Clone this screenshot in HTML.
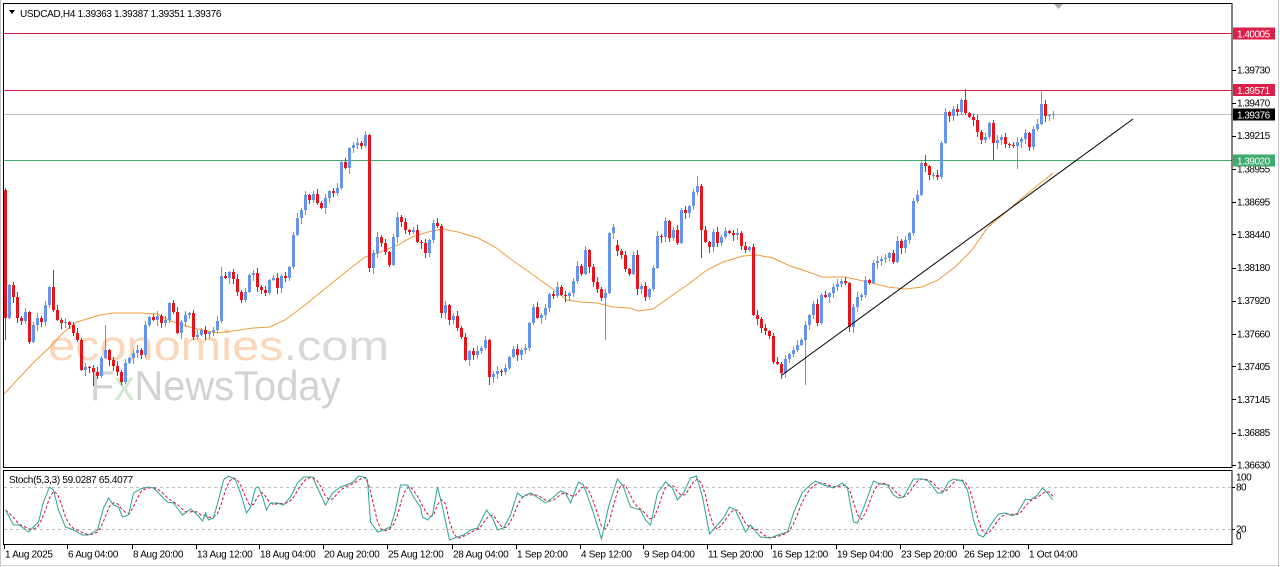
<!DOCTYPE html>
<html>
<head>
<meta charset="utf-8">
<style>
html,body{margin:0;padding:0;background:#fff;overflow:hidden;}
svg{display:block;}
text{font-family:"Liberation Sans",Arial,sans-serif;}
</style>
</head>
<body>
<svg id="chart" xmlns="http://www.w3.org/2000/svg" width="1280" height="567" viewBox="0 0 1280 567">
  <rect x="0" y="0" width="1280" height="567" fill="#ffffff"/>
  <line x1="0.5" y1="0" x2="0.5" y2="567" stroke="#c4c4c4"/>
  <line x1="1278.5" y1="0" x2="1278.5" y2="567" stroke="#c4c4c4"/>
  <line x1="0" y1="565.5" x2="1280" y2="565.5" stroke="#d0d0d0"/>

  <!-- watermark -->
  <g>
    <text x="48" y="360" font-size="42" fill="#fdd5b8" transform="translate(48,0) scale(1.16,1) translate(-48,0)">economies<tspan fill="#d8d8d8">.com</tspan></text>
    <text x="90" y="400" font-size="42" fill="#d2d2d2" transform="translate(90,0) scale(0.95,1) translate(-90,0)">F<tspan fill="#d0e8d0">x</tspan>NewsToday</text>
  </g>

  <!-- horizontal level lines -->
  <line x1="4" y1="33.5" x2="1232" y2="33.5" stroke="#d21a44" stroke-width="1"/>
  <line x1="4" y1="90.5" x2="1232" y2="90.5" stroke="#d21a44" stroke-width="1"/>
  <line x1="4" y1="114.5" x2="1232" y2="114.5" stroke="#c0c0c0" stroke-width="1"/>
  <line x1="4" y1="160.5" x2="1232" y2="160.5" stroke="#3daa6e" stroke-width="1"/>

  <!-- moving average -->
  <polyline fill="none" stroke="#ec9d3c" stroke-width="1" points="4,394 20,377 35,361 50,347 63,333 77,322 100,315 113,313 140,313 157,314 173,322 193,328 217,333 233,331 253,328 270,327 285,320 305,305 332,283 352,267 365,257 378,253 398,245 412,237 428,232 442,229 458,232 478,238 495,247 512,260 532,274 550,287 567,300 580,302 597,303 613,307 630,308 638,311 653,309 670,297 690,283 707,270 723,262 743,256 757,255 773,258 790,266 800,269 822,277 845,277 868,282 888,287 905,289 922,287 938,280 955,267 972,250 988,227 1005,213 1022,198 1038,185 1053,173"/>

  <g id="candles"></g>

  <!-- trend line -->
  <line x1="782" y1="375" x2="1133" y2="119" stroke="#000" stroke-width="1"/>

  <!-- frames -->
  <rect x="3.5" y="3.5" width="1228.5" height="464" fill="none" stroke="#000" stroke-width="1"/>
  <rect x="3.5" y="470.5" width="1228.5" height="74" fill="none" stroke="#000" stroke-width="1"/>

  <!-- shift marker -->
  <polygon points="1054,4 1063,4 1058.5,9" fill="#a8a8a8"/>

  <!-- header -->
  <polygon points="9,10 15,10 12,14" fill="#000"/>
  <text x="20" y="16.8" font-size="10" fill="#000" letter-spacing="-0.3">USDCAD,H4  1.39363 1.39387 1.39351 1.39376</text>

  <g id="paxis" font-size="10" fill="#000"></g>

  <!-- price tags -->
  <rect x="1233" y="27.5" width="42" height="12" fill="#dc1f48"/>
  <text x="1237" y="37.3" font-size="10" fill="#fff" letter-spacing="-0.5">1.40005</text>
  <rect x="1233" y="84" width="42" height="12" fill="#dc1f48"/>
  <text x="1237" y="93.8" font-size="10" fill="#fff" letter-spacing="-0.5">1.39571</text>
  <rect x="1233" y="108.5" width="42" height="12" fill="#000"/>
  <text x="1237" y="118.3" font-size="10" fill="#fff" letter-spacing="-0.5">1.39376</text>
  <rect x="1233" y="154.5" width="42" height="12" fill="#3daa6e"/>
  <text x="1237" y="164.3" font-size="10" fill="#fff" letter-spacing="-0.5">1.39020</text>

  <!-- stochastic -->
  <line x1="4" y1="487.5" x2="1232" y2="487.5" stroke="#c0c0c0" stroke-dasharray="3,3"/>
  <line x1="4" y1="529.5" x2="1232" y2="529.5" stroke="#c0c0c0" stroke-dasharray="3,3"/>
  <g id="stoch"></g>
  <text x="9" y="483" font-size="10" fill="#000" letter-spacing="-0.3">Stoch(5,3,3) 59.0287 65.4077</text>
  <text x="1236" y="480.5" font-size="10" fill="#000" letter-spacing="-0.5">100</text>
  <text x="1236" y="490.5" font-size="10" fill="#000" letter-spacing="-0.5">80</text>
  <text x="1236" y="532.5" font-size="10" fill="#000" letter-spacing="-0.5">20</text>
  <text x="1236" y="539.5" font-size="10" fill="#000" letter-spacing="-0.5">0</text>
  <line x1="1232" y1="487.5" x2="1235" y2="487.5" stroke="#000"/>
  <line x1="1232" y1="529.5" x2="1235" y2="529.5" stroke="#000"/>

  <g id="taxis" font-size="10" fill="#000"></g>
</svg>

<script>
(function(){
  var NS="http://www.w3.org/2000/svg";
  function el(tag,attrs,parent,txt){var e=document.createElementNS(NS,tag);for(var k in attrs)e.setAttribute(k,attrs[k]);if(txt!==undefined)e.textContent=txt;parent.appendChild(e);return e;}

  var C=[318,285,297,318,321,312,342,325,318,322,
  305,287,310,320,323,322,325,333,340,370,
  367,368,372,376,358,350,360,366,372,382,
  363,358,353,350,355,325,317,320,316,323,
  320,303,312,333,322,315,313,337,335,330,
  334,332,330,321,276,278,272,279,292,300,
  292,275,273,287,290,293,280,278,288,276,
  278,267,235,218,210,195,200,194,203,208,
  198,191,193,188,162,168,148,145,143,146,
  135,268,253,237,243,252,265,237,217,222,
  230,232,230,242,243,253,240,223,226,313,
  305,320,316,328,337,360,351,355,351,348,
  340,377,374,371,372,368,357,349,355,350,
  348,323,307,318,315,308,294,296,287,295,
  296,293,281,266,274,250,267,282,289,298,
  293,233,227,251,255,269,274,255,289,286,
  297,289,268,236,237,221,238,230,243,210,
  213,206,192,186,230,242,247,232,243,237,
  231,233,235,233,246,250,247,315,319,328,
  331,336,362,364,373,359,354,350,345,340,
  325,315,304,323,295,297,293,287,284,281,
  283,327,307,297,295,280,283,263,261,259,
  258,253,262,241,248,240,233,201,195,163,
  166,175,175,177,143,112,116,109,112,100,
  113,117,120,132,140,137,123,143,140,137,
  144,145,146,142,139,133,147,129,124,104,
  116,115,114];
  var ov={0:[188,340],12:[270,null],22:[null,386],25:[325,null],29:[null,385],54:[267,null],
    90:[131,null],91:[null,272],109:[null,318],121:[null,385],150:[null,340],173:[176,null],
    174:[null,258],200:[null,385],211:[null,332],230:[155,null],240:[89,null],247:[null,160],
    253:[null,169],259:[90,null]};
  var g=document.getElementById("candles");
  for(var i=0;i<C.length;i++){
    var o=(i===0)?190:C[i-1];
    if(i===153)o=245;
    var c=C[i];
    var top=Math.min(o,c),bot=Math.max(o,c);
    var r1=1+((i*7+3)%5),r2=1+((i*11+1)%6);
    var h=top-r1,l=bot+r2;
    if(ov[i]){if(ov[i][0]!==null)h=ov[i][0];if(ov[i][1]!==null)l=ov[i][1];}
    var x=5+4*i;
    var col=(c<o)?"#6495ed":(c>o?"#e8141a":"#6495ed");
    el("rect",{x:x,y:h,width:1,height:Math.max(1,l-h),fill:col},g);
    el("rect",{x:x-1,y:top,width:3,height:Math.max(1,bot-top),fill:col},g);
  }

  // traced stochastic main line (x,y)
  var M=[[5,510],[13,525],[18,525],[23,528],[28,532],[33,527],[38,522],[43,502],[49,487],[53,490],[58,510],[65,527],[73,530],[82,535],[88,535],[97,530],[103,508],[108,498],[113,505],[118,507],[122,517],[128,515],[133,493],[140,489],[147,487],[153,488],[160,495],[167,502],[173,503],[182,515],[190,509],[197,515],[202,521],[205,513],[208,520],[213,518],[218,500],[223,480],[228,476],[235,480],[240,493],[246,513],[250,507],[255,488],[258,487],[262,497],[266,510],[270,503],[277,503],[283,505],[290,497],[297,483],[303,477],[312,477],[318,490],[325,505],[332,493],[340,487],[348,484],[353,482],[358,476],[363,477],[367,480],[370,522],[377,532],[383,530],[390,527],[395,510],[400,485],[407,485],[413,497],[420,507],[422,517],[427,520],[432,515],[437,487],[442,507],[449,540],[457,537],[463,535],[470,530],[477,528],[486,510],[492,518],[497,530],[503,528],[510,515],[517,493],[522,497],[530,493],[538,498],[545,503],[552,498],[560,491],[565,493],[570,503],[578,482],[583,485],[592,510],[601,539],[608,507],[617,479],[623,487],[630,507],[640,510],[645,520],[650,525],[657,493],[665,482],[672,488],[677,500],[683,493],[690,478],[696,476],[702,497],[709,534],[715,527],[723,518],[729,507],[735,510],[745,532],[750,525],[760,537],[770,538],[777,535],[787,532],[793,513],[802,492],[810,485],[815,481],[823,485],[833,488],[842,483],[847,488],[853,522],[857,523],[863,508],[873,481],[880,484],[887,485],[893,495],[898,498],[903,497],[908,488],[913,479],[922,479],[928,481],[937,493],[942,493],[948,482],[953,479],[962,481],[967,490],[973,520],[978,535],[983,537],[990,525],[998,514],[1005,513],[1012,516],[1017,513],[1025,499],[1030,500],[1037,495],[1042,488],[1047,493],[1052,500]];
  function interp(x){
    if(x<=M[0][0])return M[0][1];
    for(var k=1;k<M.length;k++){if(x<=M[k][0]){var a=M[k-1],b=M[k];return a[1]+(b[1]-a[1])*(x-a[0])/(b[0]-a[0]);}}
    return M[M.length-1][1];
  }
  var ys=[];for(var i=0;i<263;i++){ys.push(interp(5+4*i));}
  var pd=[];
  for(var i=0;i<263;i++){
    var s=0,n=0;for(var j=Math.max(0,i-2);j<=i;j++){s+=ys[j];n++;}
    var d=s/n; if(i===262)d=497;
    pd.push((5.5+4*i)+","+d.toFixed(1));
  }
  var pk=M.map(function(p){return (p[0]+0.5)+","+p[1];});
  var sg=document.getElementById("stoch");
  el("polyline",{points:pd.join(" "),fill:"none",stroke:"#d0103a","stroke-width":1,"stroke-dasharray":"3,2"},sg);
  el("polyline",{points:pk.join(" "),fill:"none",stroke:"#2aa198","stroke-width":1},sg);

  var pa=document.getElementById("paxis");
  var labs=["1.39730","1.39470","1.39215","1.38955","1.38695","1.38440","1.38180","1.37920","1.37660","1.37405","1.37145","1.36885","1.36630"];
  for(var k=0;k<labs.length;k++){
    var p=parseFloat(labs[k]);var y=70+(1.39730-p)*12742;
    el("line",{x1:1232,y1:(Math.round(y)+0.5),x2:1236,y2:(Math.round(y)+0.5),stroke:"#000"},pa);
    el("text",{x:1237,y:(y+3.6).toFixed(1),"letter-spacing":"-0.5"},pa,labs[k]);
  }
  var ta=document.getElementById("taxis");
  var tl=[[5,"1 Aug 2025"],[68,"6 Aug 04:00"],[133,"8 Aug 20:00"],[197,"13 Aug 12:00"],[260,"18 Aug 04:00"],[324,"20 Aug 20:00"],[388,"25 Aug 12:00"],[453,"28 Aug 04:00"],[517,"1 Sep 20:00"],[581,"4 Sep 12:00"],[644,"9 Sep 04:00"],[708,"11 Sep 20:00"],[772,"16 Sep 12:00"],[837,"19 Sep 04:00"],[901,"23 Sep 20:00"],[964,"26 Sep 12:00"],[1029,"1 Oct 04:00"]];
  for(var k=0;k<tl.length;k++){
    var x=tl[k][0];
    el("line",{x1:x-0.5,y1:545,x2:x-0.5,y2:549,stroke:"#000"},ta);
    el("text",{x:x,y:557.5,"letter-spacing":"-0.3"},ta,tl[k][1]);
  }
})();
</script>
</body>
</html>
